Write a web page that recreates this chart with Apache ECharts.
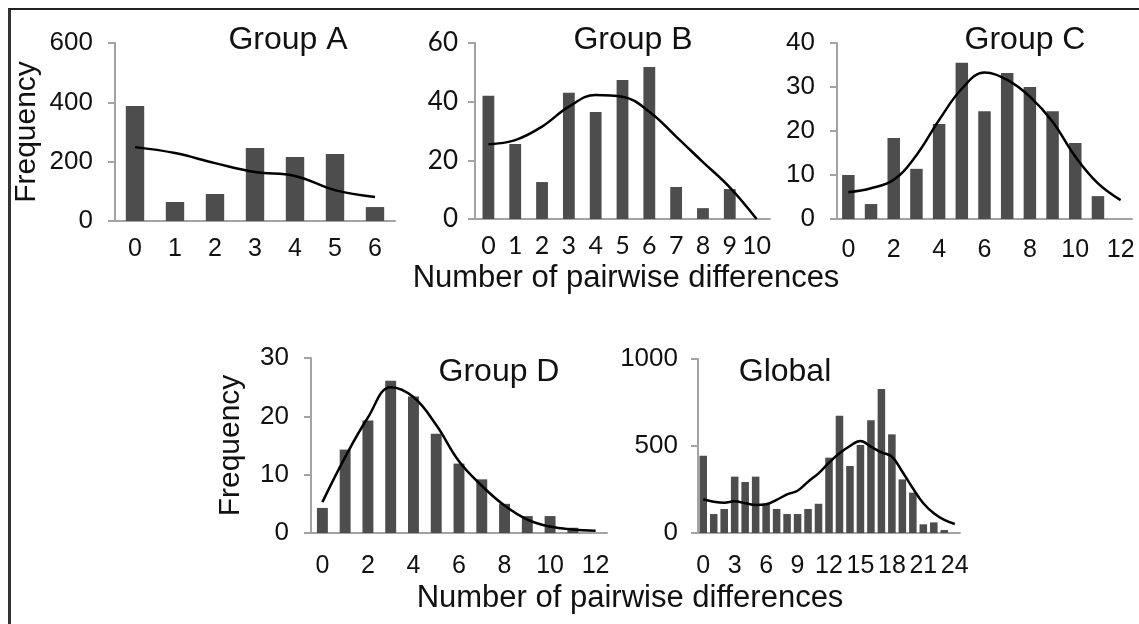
<!DOCTYPE html>
<html>
<head>
<meta charset="utf-8">
<script src="https://cdn.jsdelivr.net/npm/echarts@6/dist/echarts.min.js"></script>
<style>
  body { margin: 0; background: #fff; }
  #main { position: absolute; left: 0; top: 0; width: 1139px; height: 624px; }
  #frame { position: absolute; left: 8px; top: 8px; width: 1131px; height: 616px;
           border-top: 2px solid #222; border-left: 3px solid #333; pointer-events: none; }
</style>
</head>
<body>
<div id="main"></div>
<div id="frame"></div>
<script>
// Group A
const catA = ['0', '1', '2', '3', '4', '5', '6']
const barsA = [388, 64, 91, 246, 216, 226, 47]
const lineA = [249, 229, 195, 165, 152, 104, 81]

// Group B
const catB = ['0', '1', '2', '3', '4', '5', '6', '7', '8', '9', '10']
const barsB = [42, 25.6, 12.6, 43, 36.5, 47.4, 51.8, 10.9, 3.7, 10.2, '-']
const lineB = [25.5, 26.9, 31.5, 38.3, 42.3, 41.7, 36.6, 28.1, 19.4, 10.8, 0]

// Group C
const catC = ['0', '1', '2', '3', '4', '5', '6', '7', '8', '9', '10', '11', '12']
const barsC = [10, 3.4, 18.4, 11.4, 21.6, 35.5, 24.5, 33.2, 30, 24.5, 17.3, 5.2, '-']
const lineC = [6.1, 7.0, 8.9, 14.5, 22.5, 29.6, 33.3, 31.6, 27.8, 22.1, 14.2, 8.1, 4.3]

// Group D
const catD = ['0', '1', '2', '3', '4', '5', '6', '7', '8', '9', '10', '11', '12']
const barsD = [4.3, 14.3, 19.3, 26.1, 23.4, 17, 11.9, 9.2, 5.0, 2.9, 2.9, 0.9, '-']
const lineD = [5.3, 13.0, 19.8, 25.0, 23.3, 18.5, 12.3, 8.1, 4.7, 2.3, 1.1, 0.6, 0.4]

// Global
const catG = ['0', '1', '2', '3', '4', '5', '6', '7', '8', '9', '10', '11', '12',
  '13', '14', '15', '16', '17', '18', '19', '20', '21', '22', '23', '24']
const barsG = [444, 109, 138, 324, 293, 324, 167, 138, 109, 109, 138, 168, 433,
  674, 385, 506, 648, 828, 567, 308, 232, 50, 61, 17, '-']
const lineG = [194, 180, 174, 182, 171, 161, 165, 190, 222, 243, 295, 343, 404,
  458, 500, 529, 496, 464, 439, 352, 257, 171, 113, 75, 52]

const ARIAL = 'Liberation Sans, Arial, sans-serif'
const CALIBRI = 'Lato, Liberation Sans, sans-serif'
const AXIS_GREY = '#a3a3a3'

//面板配置
const panels = [
  { name: 'Group A', cats: catA, bars: barsA, line: lineA, max: 600, step: 200,
    grid: { left: 115, top: 43, width: 280, height: 178 }, barWidth: '46%',
    labelEvery: 0, font: ARIAL, yMargin: 22, xMargin: 16, yName: 'Frequency', yNameGap: 73,
    titleX: 288, titleY: 24 },
  { name: 'Group B', cats: catB, bars: barsB, line: lineB, max: 60, step: 20,
    grid: { left: 475, top: 43, width: 295, height: 176 }, barWidth: '44%',
    labelEvery: 0, font: CALIBRI, yMargin: 17, xMargin: 14,
    titleX: 633, titleY: 24 },
  { name: 'Group C', cats: catC, bars: barsC, line: lineC, max: 40, step: 10,
    grid: { left: 837, top: 43, width: 295, height: 176 }, barWidth: '55%',
    labelEvery: 1, font: ARIAL, yMargin: 22, xMargin: 19,
    titleX: 1025, titleY: 24 },
  { name: 'Group D', cats: catD, bars: barsD, line: lineD, max: 30, step: 10,
    grid: { left: 311, top: 358, width: 296, height: 175 }, barWidth: '48%',
    labelEvery: 1, font: ARIAL, yMargin: 22, xMargin: 21, yName: 'Frequency', yNameGap: 65,
    titleX: 499, titleY: 356 },
  { name: 'Global', cats: catG, bars: barsG, line: lineG, max: 1000, step: 500,
    grid: { left: 698, top: 359, width: 262, height: 174 }, barWidth: '72%',
    labelEvery: 2, font: ARIAL, yMargin: 20, xMargin: 21,
    titleX: 785, titleY: 356 }
]

const xTitle = 'Number of pairwise differences'

function buildOption() {
  const grid = [], xAxis = [], yAxis = [], series = [], title = []
  panels.forEach((p, i) => {
    grid.push(p.grid)
    xAxis.push({
      type: 'category',
      gridIndex: i,
      data: p.cats,
      axisLine: { lineStyle: { color: AXIS_GREY, width: 2 } },
      axisTick: { interval: 0, length: 7, lineStyle: { color: AXIS_GREY, width: 2 } },
      axisLabel: { interval: p.labelEvery, margin: p.xMargin, color: '#111',
        fontSize: 25, fontFamily: p.font }
    })
    yAxis.push({
      type: 'value',
      gridIndex: i,
      min: 0,
      max: p.max,
      interval: p.step,
      splitLine: { show: false },
      axisLine: { show: true, lineStyle: { color: AXIS_GREY, width: 2 } },
      axisTick: { show: true, length: 7, lineStyle: { color: AXIS_GREY, width: 2 } },
      //不要千位分隔符
      axisLabel: { margin: p.yMargin, color: '#111', fontSize: 26, fontFamily: p.font,
        formatter: v => String(v) },
      name: p.yName || '',
      nameLocation: 'middle',
      nameGap: p.yNameGap || 0,
      nameMoveOverlap: false,
      nameTextStyle: { color: '#111', fontSize: 30, fontFamily: ARIAL }
    })
    series.push({
      type: 'bar',
      xAxisIndex: i,
      yAxisIndex: i,
      data: p.bars,
      barWidth: p.barWidth,
      itemStyle: { color: '#4d4d4d' }
    })
    series.push({
      type: 'line',
      xAxisIndex: i,
      yAxisIndex: i,
      data: p.line,
      smooth: 0.4,
      showSymbol: false,
      lineStyle: { color: '#000', width: 2.5 }
    })
    title.push({
      text: p.name,
      left: p.titleX,
      top: p.titleY,
      textAlign: 'center',
      padding: 0,
      textStyle: { color: '#111', fontSize: 32, fontWeight: 'normal', fontFamily: ARIAL }
    })
  })
  //横轴标题
  title.push({ text: xTitle, left: 626, top: 263, textAlign: 'center', padding: 0,
    textStyle: { color: '#111', fontSize: 31, fontWeight: 'normal', fontFamily: ARIAL } })
  title.push({ text: xTitle, left: 630, top: 583, textAlign: 'center', padding: 0,
    textStyle: { color: '#111', fontSize: 31, fontWeight: 'normal', fontFamily: ARIAL } })

  return { animation: false, title, grid, xAxis, yAxis, series }
}

const myChart = echarts.init(document.getElementById('main'))
myChart.setOption(buildOption())
</script>
</body>
</html>
